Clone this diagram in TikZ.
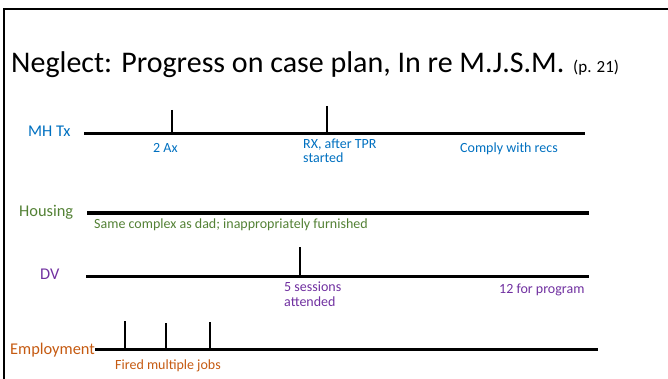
\documentclass[tikz,border=0pt]{standalone}
\usepackage{fontspec}
\setmainfont{Carlito}
\definecolor{mhblue}{RGB}{0,112,192}
\definecolor{housegreen}{RGB}{83,129,53}
\definecolor{dvpurple}{RGB}{112,48,160}
\definecolor{joborange}{RGB}{197,90,17}
\begin{document}
\begin{tikzpicture}[x=1pt,y=-1pt,
  txt/.style={inner sep=0pt,anchor=base west},
  rowlabel/.style={txt,font=\fontsize{16.4}{19}\selectfont},
  note/.style={txt,font=\fontsize{14}{14.5}\selectfont,align=left},
  timeline/.style={line width=3pt},
  tick/.style={line width=2pt}]
\useasboundingbox (0,0) rectangle (668,379);
% slide frame (left and top edges)
\draw[line width=2.6pt] (4,379) -- (4,9) -- (668,9);

% title
\node[txt,font=\fontsize{30}{36}\selectfont] (title) at (11,73)
  {Neglect: Progress on case plan, In re M.J.S.M.};
\node[txt,font=\fontsize{17}{20}\selectfont] (page) at (573,73) {(p. 21)};

% ---- MH Tx ----
\node[rowlabel,text=mhblue] (mh) at (28,137) {MH Tx};
\coordinate (mhA) at (84,133.5);
\coordinate (mhB) at (585,133.5);
\draw[timeline] (mhA) -- (mhB);
\coordinate (mhT1) at (172,110);
\coordinate (mhT1b) at (172,133.5);
\coordinate (mhT2) at (327,106);
\coordinate (mhT2b) at (327,133.5);
\draw[tick] (mhT1) -- (mhT1b);
\draw[line width=2.8pt] (mhT2) -- (mhT2b);
\node[note,text=mhblue] (ax) at (153,153) {2 Ax};
\node[note,text=mhblue,anchor=north west] (rx) at (303,138.5) {RX, after TPR\\started};
\node[note,text=mhblue] (recs) at (460,153) {Comply with recs};

% ---- Housing ----
\node[rowlabel,text=housegreen] (hs) at (19,216.5) {Housing};
\coordinate (hsA) at (87,213);
\coordinate (hsB) at (589,213);
\draw[line width=3.5pt] (hsA) -- (hsB);
\node[note,text=housegreen] (complex) at (94,228)
  {Same complex as dad; inappropriately furnished};

% ---- DV ----
\node[rowlabel,text=dvpurple] (dv) at (40,279) {DV};
\coordinate (dvA) at (86,276);
\coordinate (dvB) at (589,276);
\draw[timeline] (dvA) -- (dvB);
\coordinate (dvT1) at (300,247);
\coordinate (dvT1b) at (300,276);
\draw[tick] (dvT1) -- (dvT1b);
\node[note,text=dvpurple,anchor=north west] (sess) at (284,282) {5 sessions\\attended};
\node[note,text=dvpurple] (prog) at (499,293) {12 for program};

% ---- Employment ----
\node[rowlabel,text=joborange] (emp) at (10,354) {Employment};
\coordinate (empA) at (95,349);
\coordinate (empB) at (598,349);
\draw[timeline] (empA) -- (empB);
\foreach \xx/\yy [count=\i] in {125/321,166/323,210/322}{
  \coordinate (empT\i) at (\xx,\yy);
  \coordinate (empT\i b) at (\xx,349);
  \draw[tick] (empT\i) -- (empT\i b);
}
\node[note,text=joborange] (fired) at (115,369) {Fired multiple jobs};
\end{tikzpicture}
\end{document}
